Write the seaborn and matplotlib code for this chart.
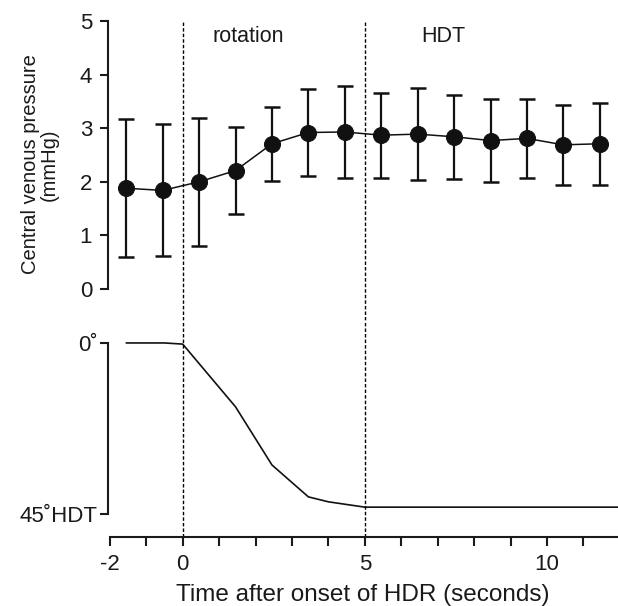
import matplotlib
matplotlib.use("Agg")
import matplotlib.pyplot as plt
import seaborn as sns
import pandas as pd


# -----------------------------
# data
# -----------------------------

time_cvp = [-1.55, -0.55, 0.45, 1.45, 2.45, 3.45, 4.45,
            5.45, 6.45, 7.45, 8.45, 9.45, 10.45, 11.45]
cvp_mean = [1.88, 1.84, 2.00, 2.21, 2.71, 2.92, 2.93,
            2.87, 2.89, 2.84, 2.77, 2.81, 2.69, 2.71]
cvp_sd = [1.29, 1.23, 1.19, 0.81, 0.69, 0.81, 0.86,
          0.79, 0.86, 0.78, 0.77, 0.74, 0.75, 0.76]

tilt_time = [-1.55, -0.5, 0.0, 1.45, 2.45, 3.45, 4.0, 5.0, 12.0]
tilt_angle = [0, 0, 0.3, 16.8, 32.1, 40.5, 41.8, 43.2, 43.2]

phase_marks = [0, 5]
phase_labels = ["rotation", "HDT"]
phase_label_x = [1.8, 7.15]

xtick_labels = {-2: "-2", 0: "0", 5: "5", 10: "10"}

cvp = pd.DataFrame({"time": time_cvp, "mean": cvp_mean, "sd": cvp_sd})
tilt = pd.DataFrame({"time": tilt_time, "angle": tilt_angle})


# -----------------------------
# style
# -----------------------------

sns.set_style("ticks")
plt.rcParams["font.family"] = ["Liberation Sans", "DejaVu Sans"]
plt.rcParams["axes.linewidth"] = 1.5
plt.rcParams["xtick.major.width"] = 1.5
plt.rcParams["ytick.major.width"] = 1.5
for key in ["text.color", "axes.labelcolor", "xtick.color", "ytick.color",
            "axes.edgecolor"]:
    plt.rcParams[key] = "#1a1a1a"

fig = plt.figure(figsize=(6.18, 6.06), dpi=100)
ax_top = fig.add_axes([0.1748, 0.4719, 0.8252, 0.4984])
ax_bot = fig.add_axes([0.1748, 0.1139, 0.8252, 0.3581])

xlim = (-2.05, 11.95)
dash = (0, (2.5, 1.5))


# -----------------------------
# top: central venous pressure
# -----------------------------

ax_top.errorbar(cvp["time"], cvp["mean"], yerr=cvp["sd"], fmt="none",
                ecolor="#111111", elinewidth=1.6, capsize=5.8, capthick=1.8,
                zorder=2)
sns.lineplot(data=cvp, x="time", y="mean", ax=ax_top, color="#111111",
             linewidth=1.1, marker="o", markersize=11.5,
             markeredgecolor="#111111", zorder=3)

ax_top.vlines(phase_marks, ymin=-0.578, ymax=4.98, colors="black",
              linestyles=dash, linewidth=1.0, zorder=4)

for lab, lx in zip(phase_labels, phase_label_x):
    ax_top.text(lx, 4.72, lab, ha="center", va="center", fontsize=15.5)

ax_top.set_xlim(xlim)
ax_top.set_ylim(-0.578, 5.056)
ax_top.set_yticks([0, 1, 2, 3, 4, 5])
ax_top.tick_params(axis="y", labelsize=16, length=5.5, pad=6)
ax_top.set_xticks([])
ax_top.set_xlabel("")
ax_top.set_ylabel("Central venous pressure\n(mmHg)", fontsize=14.5,
                  linespacing=1.0)
ax_top.yaxis.set_label_coords(-0.097, 0.515)
for s in ["top", "right", "bottom"]:
    ax_top.spines[s].set_visible(False)
ax_top.spines["left"].set_bounds(0, 5)
ax_top.patch.set_alpha(0)


# -----------------------------
# bottom: tilt angle
# -----------------------------

sns.lineplot(data=tilt, x="time", y="angle", ax=ax_bot, color="#111111",
             linewidth=1.2)
for xm in phase_marks:
    ax_bot.axvline(xm, color="black", linestyle=dash, linewidth=1.0)

ax_bot.set_xlim(xlim)
ax_bot.set_ylim(51.05, -6.05)
ax_bot.set_yticks([0, 45])
ax_bot.set_yticklabels(["0˚", "45˚HDT"])
ax_bot.tick_params(axis="y", labelsize=16, length=5.5, pad=2)

ax_bot.set_xticks(range(-2, 12))
ax_bot.set_xticklabels([xtick_labels.get(t, "") for t in range(-2, 12)])
ax_bot.tick_params(axis="x", labelsize=16, length=6.5, pad=6)
ax_bot.set_xlabel("Time after onset of HDR (seconds)", fontsize=17.5,
                  labelpad=6)
ax_bot.set_ylabel("")
for s in ["top", "right"]:
    ax_bot.spines[s].set_visible(False)
ax_bot.spines["left"].set_bounds(0, 45)
ax_bot.spines["bottom"].set_bounds(-2, 11.95)
ax_bot.patch.set_alpha(0)

fig.savefig("out.png", dpi=100)
